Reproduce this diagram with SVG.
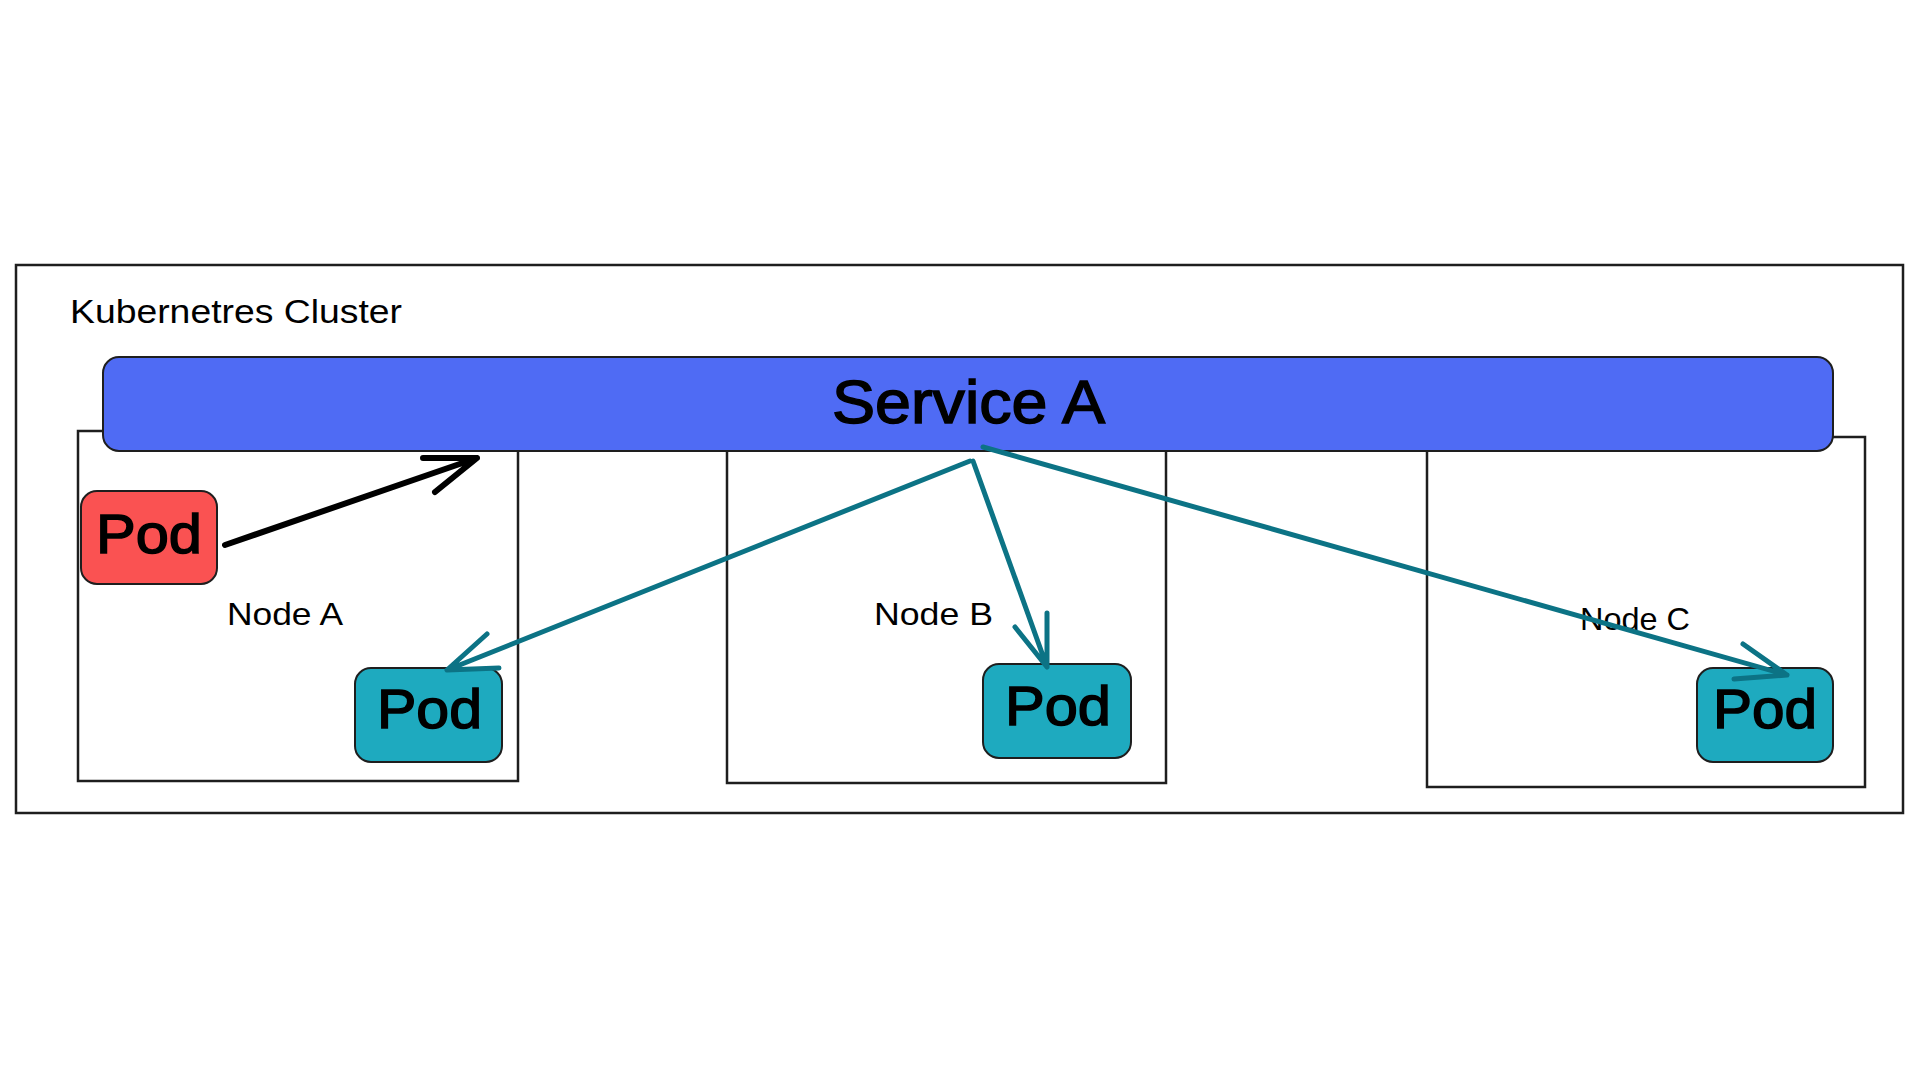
<svg xmlns="http://www.w3.org/2000/svg" width="1920" height="1080" viewBox="0 0 1920 1080">
<style>
  .frame { fill: none; stroke: #1e1e1e; stroke-width: 2.5; }
  .nodebox { fill: #ffffff; stroke: #1e1e1e; stroke-width: 2.5; }
  .pod-teal { fill: #1eaabf; stroke: #1e1e1e; stroke-width: 2; }
  .pod-red { fill: #fa5252; stroke: #1e1e1e; stroke-width: 2; }
  .service { fill: #4f6bf4; stroke: #1e1e1e; stroke-width: 2; }
  .txt { font-family: "Liberation Sans", "DejaVu Sans", sans-serif; fill: #000000; }
  .label { font-size: 32px; }
  .big { stroke: #000000; stroke-width: 1.5; }
  .podtxt { font-size: 56px; }
  .conn-teal { fill: none; stroke: #0c7385; stroke-width: 5; stroke-linecap: round; stroke-linejoin: round; }
  .conn-black { fill: none; stroke: #000000; stroke-width: 6; stroke-linecap: round; stroke-linejoin: round; }
</style>
<rect width="1920" height="1080" fill="#ffffff"/>

<g id="cluster">
  <rect class="frame" x="16" y="265" width="1887" height="548"/>
  <text class="txt" x="70" y="323" font-size="34" textLength="332" lengthAdjust="spacingAndGlyphs">Kubernetres Cluster</text>
</g>

<g id="node-a">
  <rect class="nodebox" x="78" y="431" width="440" height="350"/>
  <text class="txt label" x="227" y="625" textLength="116" lengthAdjust="spacingAndGlyphs">Node A</text>
</g>
<g id="node-b">
  <rect class="nodebox" x="727" y="440" width="439" height="343"/>
  <text class="txt label" x="874" y="625" textLength="119" lengthAdjust="spacingAndGlyphs">Node B</text>
</g>
<g id="node-c">
  <rect class="nodebox" x="1427" y="437" width="438" height="350"/>
  <text class="txt label" x="1580" y="630" textLength="110" lengthAdjust="spacingAndGlyphs">Node C</text>
</g>

<g id="service-a">
  <rect class="service" x="103" y="357" width="1730" height="94" rx="16" ry="16"/>
  <text class="txt big" x="832" y="423" font-size="62" textLength="273" lengthAdjust="spacingAndGlyphs">Service A</text>
</g>

<g id="pod-red">
  <rect class="pod-red" x="81" y="491" width="136" height="93" rx="16" ry="16"/>
  <text class="txt podtxt big" x="96" y="553" textLength="106" lengthAdjust="spacingAndGlyphs">Pod</text>
</g>
<g id="pod-a">
  <rect class="pod-teal" x="355" y="668" width="147" height="94" rx="16" ry="16"/>
  <text class="txt podtxt big" x="377" y="728" textLength="105" lengthAdjust="spacingAndGlyphs">Pod</text>
</g>
<g id="pod-b">
  <rect class="pod-teal" x="983" y="664" width="148" height="94" rx="16" ry="16"/>
  <text class="txt podtxt big" x="1005" y="725" textLength="106" lengthAdjust="spacingAndGlyphs">Pod</text>
</g>
<g id="pod-c">
  <rect class="pod-teal" x="1697" y="668" width="136" height="94" rx="16" ry="16"/>
  <text class="txt podtxt big" x="1713" y="728" textLength="104" lengthAdjust="spacingAndGlyphs">Pod</text>
</g>

<g id="connectors">
  <path class="conn-black" d="M225 545 L477 458 M423 458 L477 458 L435 492"/>
  <path class="conn-teal" d="M970 461 L447 670 M487 634 L447 670 L499 668"/>
  <path class="conn-teal" d="M973 461 L1047 667 M1015 627 L1047 667 L1047 613"/>
  <path class="conn-teal" d="M983 447 L1787 675 M1743 644 L1787 675 L1734 679"/>
</g>
</svg>
